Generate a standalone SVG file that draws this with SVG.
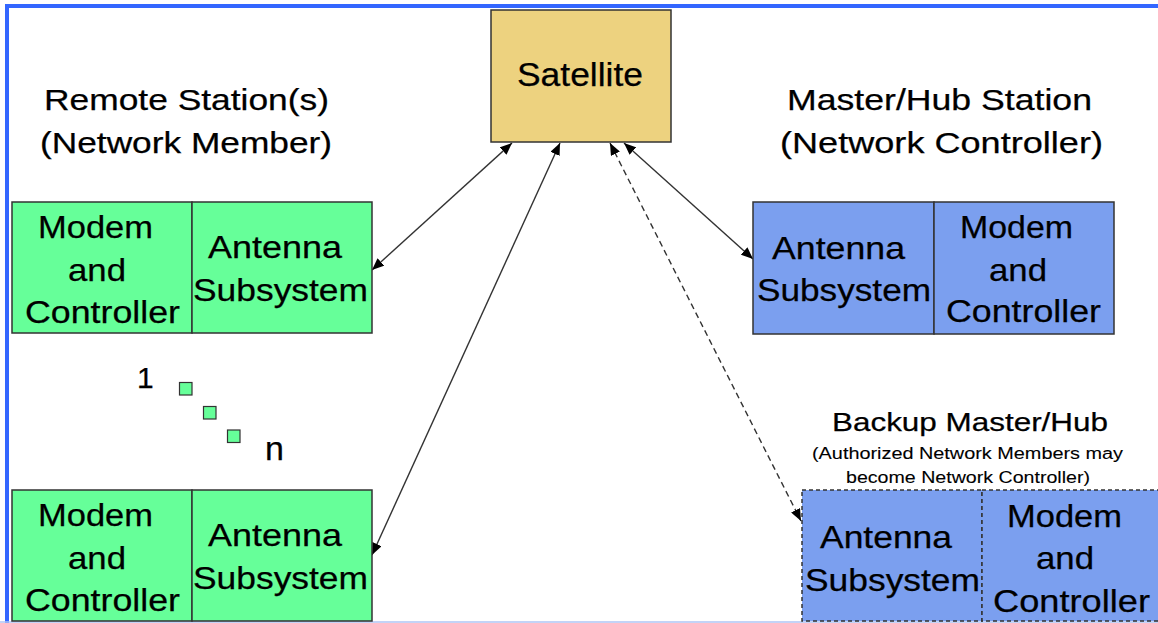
<svg xmlns="http://www.w3.org/2000/svg" width="1158" height="623" viewBox="0 0 1158 623">
<style>
text{font-family:"Liberation Sans",Arial,sans-serif;fill:#000;stroke:#000;stroke-width:0.25}
.b{font-size:32px}
.h{font-size:30px}
.rem{fill:#66FF99;stroke:#333;stroke-width:1.5}
.hub{fill:#7B9FEF;stroke:#333;stroke-width:1.5}
.bak{fill:#7B9FEF;stroke:#333;stroke-width:1.5;stroke-dasharray:4 3}
.c{fill:none;stroke:#333;stroke-width:1.4}
.d{stroke-dasharray:6 4}
</style>
<defs>
<marker id="ah" viewBox="0 0 12 10" refX="12" refY="5" markerWidth="12" markerHeight="10" markerUnits="userSpaceOnUse" orient="auto-start-reverse">
<path d="M0,0 L12,5 L0,10 z" fill="#000"/>
</marker>
</defs>
<rect x="0" y="0" width="1158" height="623" fill="#fff"/>
<g id="frame">
<line x1="5" y1="6" x2="1158" y2="6" stroke="#3366FF" stroke-width="4"/>
<line x1="7" y1="4" x2="7" y2="623" stroke="#3366FF" stroke-width="4"/>
<line x1="0" y1="622" x2="1158" y2="622" stroke="#AFC4F5" stroke-width="1.5"/>
</g>
<g id="connectors">
<line class="c" x1="512" y1="143" x2="372" y2="270" marker-start="url(#ah)" marker-end="url(#ah)"/>
<line class="c" x1="560" y1="143" x2="372" y2="555" marker-start="url(#ah)" marker-end="url(#ah)"/>
<line class="c d" x1="610" y1="143" x2="801" y2="521" marker-start="url(#ah)" marker-end="url(#ah)"/>
<line class="c" x1="624" y1="143" x2="753" y2="259" marker-start="url(#ah)" marker-end="url(#ah)"/>
</g>
<g id="satellite">
<rect x="491" y="10" width="180" height="132" fill="#EDD27F" stroke="#333" stroke-width="1.5"/>
<text x="517" y="86" font-size="33" textLength="126" lengthAdjust="spacingAndGlyphs">Satellite</text>
</g>
<g id="remote-heading">
<text class="h" x="44" y="110" textLength="285" lengthAdjust="spacingAndGlyphs">Remote Station(s)</text>
<text class="h" x="40" y="153" textLength="292" lengthAdjust="spacingAndGlyphs">(Network Member)</text>
</g>
<g id="hub-heading">
<text class="h" x="787" y="110" textLength="305" lengthAdjust="spacingAndGlyphs">Master/Hub Station</text>
<text class="h" x="780" y="153" textLength="323" lengthAdjust="spacingAndGlyphs">(Network Controller)</text>
</g>
<g id="remote-1">
<rect class="rem" x="12" y="202" width="180" height="131"/>
<rect class="rem" x="192" y="202" width="180" height="131"/>
<text class="b" x="38" y="238" textLength="115" lengthAdjust="spacingAndGlyphs">Modem</text>
<text class="b" x="68" y="281" textLength="58" lengthAdjust="spacingAndGlyphs">and</text>
<text class="b" x="25" y="323" textLength="155" lengthAdjust="spacingAndGlyphs">Controller</text>
<text class="b" x="208" y="258" textLength="134" lengthAdjust="spacingAndGlyphs">Antenna</text>
<text class="b" x="193" y="301" textLength="175" lengthAdjust="spacingAndGlyphs">Subsystem</text>
</g>
<g id="remote-sequence">
<text x="137" y="388" font-size="30">1</text>
<rect x="179.5" y="382.5" width="12.5" height="12.5" fill="#66FF99" stroke="#333" stroke-width="1.2"/>
<rect x="203.5" y="406.5" width="12.5" height="12.5" fill="#66FF99" stroke="#333" stroke-width="1.2"/>
<rect x="227.5" y="430" width="12.5" height="12.5" fill="#66FF99" stroke="#333" stroke-width="1.2"/>
<text x="265" y="460" font-size="34">n</text>
</g>
<g id="remote-n">
<rect class="rem" x="12" y="490" width="180" height="131"/>
<rect class="rem" x="192" y="490" width="180" height="131"/>
<text class="b" x="38" y="526" textLength="115" lengthAdjust="spacingAndGlyphs">Modem</text>
<text class="b" x="68" y="569" textLength="58" lengthAdjust="spacingAndGlyphs">and</text>
<text class="b" x="25" y="611" textLength="155" lengthAdjust="spacingAndGlyphs">Controller</text>
<text class="b" x="208" y="546" textLength="134" lengthAdjust="spacingAndGlyphs">Antenna</text>
<text class="b" x="193" y="589" textLength="175" lengthAdjust="spacingAndGlyphs">Subsystem</text>
</g>
<g id="master-hub">
<rect class="hub" x="753" y="202" width="181" height="132"/>
<rect class="hub" x="934" y="202" width="180" height="132"/>
<text class="b" x="772" y="259" textLength="133" lengthAdjust="spacingAndGlyphs">Antenna</text>
<text class="b" x="757" y="301" textLength="174" lengthAdjust="spacingAndGlyphs">Subsystem</text>
<text class="b" x="960" y="238" textLength="113" lengthAdjust="spacingAndGlyphs">Modem</text>
<text class="b" x="989" y="281" textLength="58" lengthAdjust="spacingAndGlyphs">and</text>
<text class="b" x="946" y="322" textLength="155" lengthAdjust="spacingAndGlyphs">Controller</text>
</g>
<g id="backup-heading">
<text x="832" y="431" font-size="26" textLength="276" lengthAdjust="spacingAndGlyphs">Backup Master/Hub</text>
<text x="812" y="459" font-size="16" textLength="311" lengthAdjust="spacingAndGlyphs" style="stroke-width:0.1">(Authorized Network Members may</text>
<text x="846" y="483" font-size="16" textLength="244" lengthAdjust="spacingAndGlyphs" style="stroke-width:0.1">become Network Controller)</text>
</g>
<g id="backup-hub">
<rect class="bak" x="802" y="490" width="180" height="131"/>
<rect class="bak" x="982" y="490" width="180" height="131"/>
<text class="b" x="820" y="548" textLength="132" lengthAdjust="spacingAndGlyphs">Antenna</text>
<text class="b" x="805" y="591" textLength="175" lengthAdjust="spacingAndGlyphs">Subsystem</text>
<text class="b" x="1007" y="527" textLength="115" lengthAdjust="spacingAndGlyphs">Modem</text>
<text class="b" x="1036" y="569" textLength="58" lengthAdjust="spacingAndGlyphs">and</text>
<text class="b" x="993" y="612" textLength="157" lengthAdjust="spacingAndGlyphs">Controller</text>
</g>
</svg>
